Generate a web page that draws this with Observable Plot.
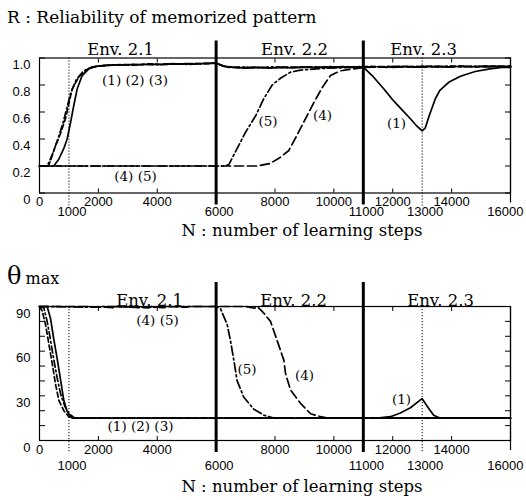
<!DOCTYPE html>
<html>
<head>
<meta charset="utf-8">
<script src="https://cdn.jsdelivr.net/npm/d3@7"></script>
<script src="https://cdn.jsdelivr.net/npm/@observablehq/plot@0.6"></script>
<style>
  html, body { margin: 0; padding: 0; background: #fff; }
  svg { display: block; }
</style>
</head>
<body>
<div id="chart"></div>
<script>
// ---------- Data ----------
const envBounds = [6000, 11000];
const dottedMarks = [1000, 13000];
const envNames = ["Env. 2.1", "Env. 2.2", "Env. 2.3"];
const envPosTop = [2752, 8662, 13045];
const envPosBottom = [3737, 8629, 13623];

const xTickRow1 = [0, 2000, 4000, 8000, 10000, 12000, 14000];
const xTickRow2 = [1000, 6000, 11000, 13000];
const xTickEnd = [16000];
const xMinorTicks = [0, 2000, 4000, 6000, 8000, 10000, 12000, 14000, 16000];

const rTicks = [0, 0.2, 0.4, 0.6, 0.8, 1.0];
const thetaTicks = [0, 10, 20, 30, 40, 50, 60, 70, 80, 90];
const thetaLabels = [0, 30, 60, 90];

// R: reliability of memorized pattern  [N, R]
const r1 = [[0,0.2],[486,0.2],[656,0.25],[826,0.33],[939,0.4],[1053,0.52],[1166,0.65],[1279,0.77],[1449,0.87],[1676,0.92],[1960,0.94],[2300,0.945],[2600,0.95],[2900,0.948],[3200,0.953],[3500,0.95],[3800,0.955],[4100,0.952],[4400,0.957],[4700,0.954],[5000,0.958],[5300,0.955],[5600,0.96],[5900,0.962],[6000,0.963],[6250,0.94],[6600,0.93],[7000,0.925],[7400,0.93],[7800,0.924],[8200,0.93],[8600,0.927],[9000,0.932],[9400,0.928],[9800,0.933],[10200,0.93],[10600,0.935],[11000,0.932],[11300,0.87],[11700,0.77],[12000,0.69],[12300,0.62],[12600,0.55],[12800,0.5],[13000,0.46],[13100,0.48],[13250,0.58],[13450,0.7],[13600,0.76],[13900,0.82],[14300,0.865],[14800,0.9],[15300,0.92],[15700,0.93],[16000,0.93]];
const r2 = [[0,0.2],[300,0.2],[374,0.24],[543,0.35],[713,0.44],[883,0.55],[996,0.66],[1109,0.77],[1336,0.86],[1562,0.91],[1800,0.935],[2100,0.94],[2500,0.948],[2900,0.952],[3300,0.95],[3700,0.956],[4100,0.953],[4500,0.958],[4900,0.956],[5300,0.96],[5700,0.958],[6000,0.962],[6300,0.935],[6800,0.928],[7300,0.932],[7800,0.927],[8300,0.933],[8800,0.93],[9300,0.935],[9800,0.931],[10300,0.936],[10800,0.933],[11300,0.938],[11800,0.934],[12300,0.939],[12800,0.935],[13300,0.94],[13800,0.936],[14300,0.94],[14800,0.937],[15300,0.941],[15800,0.938],[16000,0.94]];
const r3 = [[0,0.2],[250,0.2],[330,0.23],[480,0.31],[640,0.41],[800,0.52],[930,0.63],[1060,0.74],[1250,0.84],[1480,0.9],[1750,0.93],[2100,0.945],[2600,0.95],[3100,0.947],[3600,0.953],[4100,0.95],[4600,0.955],[5100,0.953],[5600,0.958],[6000,0.96],[6400,0.93],[6900,0.933],[7400,0.928],[7900,0.934],[8400,0.929],[8900,0.935],[9400,0.93],[9900,0.936],[10400,0.932],[10900,0.937],[11400,0.933],[11900,0.938],[12400,0.933],[12900,0.939],[13400,0.934],[13900,0.94],[14400,0.935],[14900,0.939],[15400,0.936],[16000,0.938]];
const r4 = [[0,0.2],[7394,0.2],[7846,0.22],[8187,0.265],[8470,0.315],[8753,0.43],[9036,0.55],[9319,0.67],[9602,0.78],[9885,0.87],[10225,0.905],[10678,0.92],[11000,0.93],[11500,0.935],[12000,0.93],[12500,0.936],[13000,0.932],[13500,0.937],[14000,0.933],[14500,0.938],[15000,0.934],[15500,0.937],[16000,0.935]];
const r5 = [[0,0.2],[6300,0.2],[6431,0.21],[6715,0.33],[6998,0.45],[7338,0.57],[7621,0.7],[7904,0.8],[8187,0.85],[8527,0.895],[8866,0.91],[9300,0.918],[9800,0.925],[10300,0.928],[10800,0.93],[11300,0.935],[11800,0.931],[12300,0.936],[12800,0.932],[13300,0.937],[13800,0.933],[14300,0.938],[14800,0.934],[15300,0.938],[16000,0.936]];

// theta max  [N, degrees]
const t1 = [[0,90],[260,90],[374,82],[486,68],[600,55],[713,41],[826,27],[940,19.5],[1110,15],[1300,15],[11470,15],[11920,16],[12260,18.5],[12600,22],[12920,27],[13000,28],[13170,23],[13390,17],[13620,15],[16000,15]];
const t2 = [[0,90],[91,87],[204,78],[317,65],[430,52],[543,38],[657,27],[826,20],[996,16],[1200,15],[16000,15]];
const t3 = [[0,90],[150,89],[260,80],[370,68],[480,55],[600,42],[720,31],[860,23],[1000,18],[1200,15],[16000,15]];
const t4 = [[0,90],[1500,90],[2500,89.3],[2600,90],[3700,89],[3800,90],[4300,89.2],[4400,90],[5000,89.5],[5100,90],[6000,90],[7000,90],[7300,88.8],[7400,90],[7621,85.5],[7847,80],[8074,67],[8300,54],[8357,45],[8526,34],[8866,25],[9206,18],[9545,16],[9800,15],[16000,15]];
const t5 = [[0,90],[2000,89.5],[2100,90],[4200,89.4],[4300,90],[6000,90],[6148,88.5],[6375,78],[6488,67],[6601,54],[6715,40],[6941,29],[7281,21],[7621,17],[7960,15],[16000,15]];

// curve labels
const rLabelText = ["(1) (2) (3)", "(4) (5)", "(5)", "(4)", "(1)"];
const rLabelN = [3244, 3261, 7762, 9614, 12128];
const rLabelV = [0.833, 0.122, 0.532, 0.574, 0.517];
const tLabelText = ["(4) (5)", "(5)", "(4)", "(1)", "(1) (2) (3)"];
const tLabelN = [4009, 7049, 9002, 12297, 3431];
const tLabelV = [80.6, 47.5, 43.7, 27.5, 9.4];

const topTitle = "R : Reliability of memorized pattern";
const xTitle = "N : number of learning steps";

// ---------- Styles ----------
const SERIF = "DejaVu Serif";
const SANS = "Liberation Sans";
const styles = [
  {dash: null},
  {dash: "5,3"},
  {dash: "7,3,1.5,3"},
  {dash: "9,4"},
  {dash: "9,3,2,3"}
];

function seriesMarks(series) {
  return series.map((s, i) => Plot.line(s, {
    x: d => d[0], y: d => d[1],
    stroke: "#000", strokeWidth: 1.7,
    strokeDasharray: styles[i].dash,
    curve: "linear"
  }));
}

function panel({height, marginTop, marginBottom, yDomain, yTicks, yLabels, yFormat, series, labels, envPos, envDy, row1Pad, row2Pad, titleDy, envTop}) {
  const envData = envNames.map((t, i) => ({t, x: envPos[i]}));
  const labData = labels.text.map((t, i) => ({t, x: labels.n[i], y: labels.v[i]}));
  const fmt = d3.format("d");
  return Plot.plot({
    width: 526,
    height,
    marginLeft: 39,
    marginRight: 16,
    marginTop,
    marginBottom,
    x: {domain: [0, 16000]},
    y: {domain: yDomain},
    style: {fontFamily: SANS, fontSize: "13px", background: "#fff", color: "#000"},
    marks: [
      Plot.frame({stroke: "#000", strokeWidth: 1.2}),
      Plot.axisY(yTicks, {anchor: "left", tickSize: -6, text: null, label: null}),
      Plot.axisY(yTicks, {anchor: "right", tickSize: -6, text: null, label: null}),
      Plot.axisX(xMinorTicks, {anchor: "bottom", tickSize: -4, text: null, label: null}),
      Plot.axisX(xMinorTicks, {anchor: "top", tickSize: -4, text: null, label: null}),
      Plot.axisY(yLabels, {anchor: "left", tickSize: 0, tickPadding: 9, dy: 7, tickFormat: yFormat, label: null, fontSize: 13}),
      Plot.axisX(xTickRow1, {anchor: "bottom", tickSize: 0, tickPadding: row1Pad, tickFormat: fmt, label: null, fontSize: 13}),
      Plot.axisX(xTickRow2, {anchor: "bottom", tickSize: 0, tickPadding: row2Pad, tickFormat: fmt, label: null, fontSize: 13, dx: 3}),
      Plot.axisX(xTickEnd, {anchor: "bottom", tickSize: 0, tickPadding: row2Pad, tickFormat: fmt, label: null, fontSize: 13, textAnchor: "end", dx: 13}),
      Plot.ruleX(dottedMarks, {stroke: "#000", strokeWidth: 1, strokeDasharray: "1.2,1.8", insetBottom: -13}),
      Plot.ruleX([16000], {stroke: "#000", strokeWidth: 1.2, insetBottom: -10}),
      Plot.ruleX(envBounds, {stroke: "#000", strokeWidth: 3, insetTop: -envTop, insetBottom: -12}),
      ...seriesMarks(series),
      Plot.text(labData, {x: "x", y: "y", text: "t", fontFamily: SERIF, fontSize: 13.5, fill: "#000"}),
      Plot.text(envData, {x: "x", frameAnchor: "top", text: "t", dy: envDy, fontFamily: SERIF, fontSize: 16.5, fill: "#000"}),
      Plot.text([xTitle], {frameAnchor: "bottom", dx: 27, dy: titleDy, fontFamily: SERIF, fontSize: 16.5, fill: "#000"})
    ]
  });
}

const topSvg = panel({
  height: 245, marginTop: 57.5, marginBottom: 52.5,
  yDomain: [0, 1], yTicks: rTicks, yLabels: rTicks,
  yFormat: d => d === 0 ? "0" : d.toFixed(1),
  series: [r1, r2, r3, r4, r5],
  labels: {text: rLabelText, n: rLabelN, v: rLabelV},
  envPos: envPosTop, envDy: -15, row1Pad: 4, row2Pad: 14, titleDy: 43, envTop: 17
});
const bottomSvg = panel({
  height: 255, marginTop: 61, marginBottom: 60,
  yDomain: [0, 90], yTicks: thetaTicks, yLabels: thetaLabels,
  yFormat: d3.format("d"),
  series: [t1, t2, t3, t4, t5],
  labels: {text: tLabelText, n: tLabelN, v: tLabelV},
  envPos: envPosBottom, envDy: -12, row1Pad: 4, row2Pad: 20, titleDy: 51, envTop: 24
});

d3.select(topSvg).append("text")
  .attr("x", 7).attr("y", 23)
  .attr("text-anchor", "start")
  .attr("font-family", SERIF).attr("font-size", 17)
  .text(topTitle);
const th = d3.select(bottomSvg).append("text")
  .attr("x", 7).attr("y", 39)
  .attr("text-anchor", "start")
  .attr("font-family", SERIF);
th.append("tspan").attr("font-size", 24).text("θ");
th.append("tspan").attr("font-size", 16).attr("dx", 4).text("max");

document.getElementById("chart").append(topSvg, bottomSvg);
</script>
</body>
</html>
